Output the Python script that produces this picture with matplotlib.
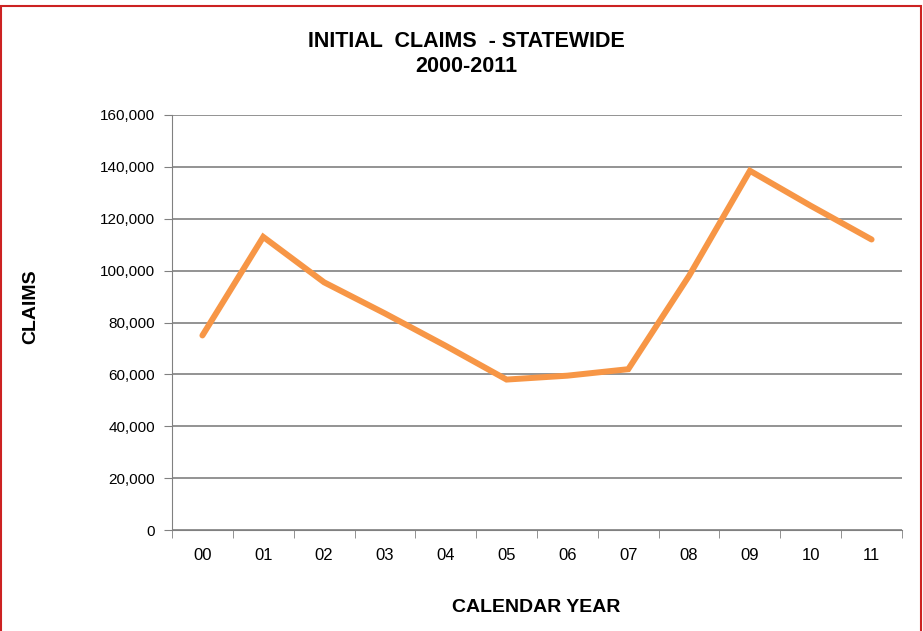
import matplotlib
matplotlib.use('Agg')
import matplotlib.pyplot as plt
from matplotlib.patches import Rectangle

plt.rcParams['font.family'] = ['Liberation Sans', 'DejaVu Sans']

# data
years = ['00', '01', '02', '03', '04', '05', '06', '07', '08', '09', '10', '11']
claims = [75000, 113000, 95500, 83500, 71000, 58000, 59500, 62000, 98000, 138500, 125000, 112000]

fig = plt.figure(figsize=(9.23, 6.31), dpi=100)
ax = fig.add_axes([172/923, 1 - 530/631, (902-172)/923, (530-115)/631])

x = list(range(len(years)))
ax.plot(x, claims, color='#F79646', linewidth=4.3, solid_capstyle='round', solid_joinstyle='miter')

ax.set_xlim(-0.5, len(years) - 0.5)
ax.set_ylim(0, 160000)
ax.set_yticks(range(0, 160001, 20000))
ax.set_yticklabels(['{:,}'.format(v) for v in range(0, 160001, 20000)], fontsize=11)
ax.set_xticks(x)
ax.set_xticklabels(years, fontsize=12)
ax.tick_params(axis='x', length=0, pad=13)
ax.set_xticks([i - 0.5 for i in range(len(years) + 1)], minor=True)
ax.tick_params(axis='x', which='minor', length=6, color='#808080', direction='out')
ax.tick_params(axis='y', length=6, color='#808080', direction='out', pad=6)

ax.grid(axis='y', color='#808080', linewidth=1.2)
ax.set_axisbelow(True)
for s in ['top', 'right']:
    ax.spines[s].set_visible(False)
ax.spines['left'].set_color('#808080')
ax.spines['bottom'].set_color('#808080')

fig.text(466/923, 1 - 54/631, 'INITIAL  CLAIMS  - STATEWIDE\n2000-2011', ha='center', va='center',
         fontsize=15.5, fontweight='bold', linespacing=1.25)
fig.text(536/923, 1 - 608/631, 'CALENDAR YEAR', ha='center', va='center', fontsize=14, fontweight='bold')
fig.text(31/923, 1 - 307/631, 'CLAIMS', ha='center', va='center', rotation=90, fontsize=14, fontweight='bold')

# red frame
fig.patches.append(Rectangle((0.001, -0.01), 0.997, 1.0, transform=fig.transFigure,
                             fill=False, edgecolor='#CC2222', linewidth=1.5))

fig.savefig('out.png', dpi=100)
